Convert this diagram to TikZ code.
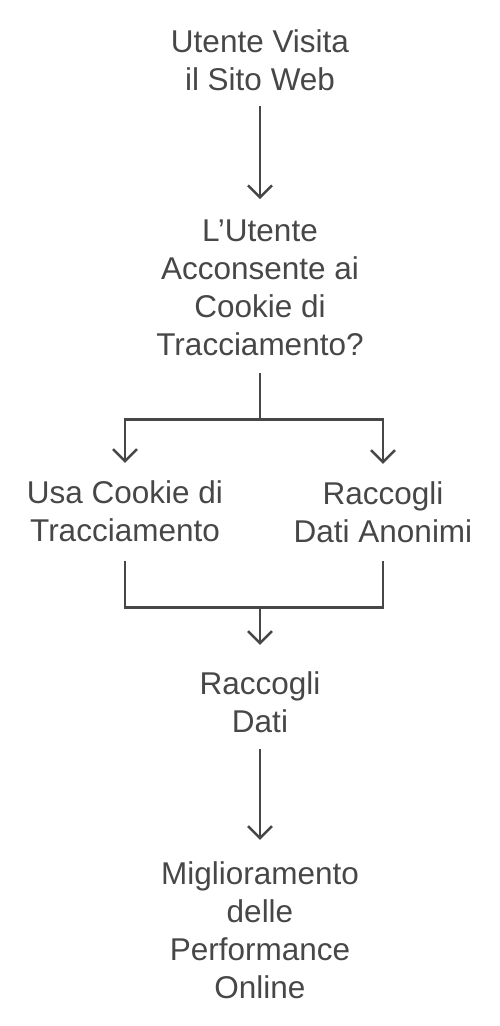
\documentclass[tikz,border=0pt]{standalone}
\usepackage{fontspec}
\setmainfont{Liberation Sans}
\usepackage{tikz}
\usetikzlibrary{arrows.meta}

\definecolor{ink}{HTML}{474747}
\tikzset{
	txt/.style={align=center, inner sep=0pt, anchor=base, text=ink,
		font=\fontsize{31.5}{38}\selectfont},
	link/.style={draw=ink, line width=2.5pt}
}

\begin{document}
\begin{tikzpicture}[>={Straight Barb[length=12pt,width=24pt]}, x=1pt, y=-1pt]
	\useasboundingbox (0,0) rectangle (500,1026);
	%\draw [help lines] (0,0) grid[step=50] (500,1026);
	\node [txt] (visit) at (260,90) {Utente Visita\\il Sito Web};
	\node [txt] (consent) at (260,355) {L'Utente\\Acconsente ai\\Cookie di\\Tracciamento?};
	\node [txt] (cookie) at (125,541) {Usa Cookie di\\Tracciamento};
	\node [txt] (anon) at (383,542) {Raccogli\\Dati Anonimi};
	\node [txt] (collect) at (260,732) {Raccogli\\Dati};
	\node [txt] (improve) at (260,998) {Miglioramento\\delle\\Performance\\Online};

	\draw [link, ->] ([yshift=-15pt]visit.south) -- ([yshift=20pt]consent.north);
	\draw [link] ([yshift=-17pt]consent.south) -- ++(0,47) coordinate (split);
	\draw [link, ->] (split) -| ([yshift=17pt]cookie.north);
	\draw [link, ->] (split) -| ([yshift=17pt]anon.north);
	\draw [link] ([yshift=-19pt]cookie.south) -- ++(0,47) coordinate (merge) -| ([yshift=-18pt]anon.south);
	\draw [link, ->] (merge -| collect.north) -- ([yshift=26pt]collect.north);
	\draw [link, ->] ([yshift=-16pt]collect.south) -- ([yshift=21pt]improve.north);
\end{tikzpicture}
\end{document}
